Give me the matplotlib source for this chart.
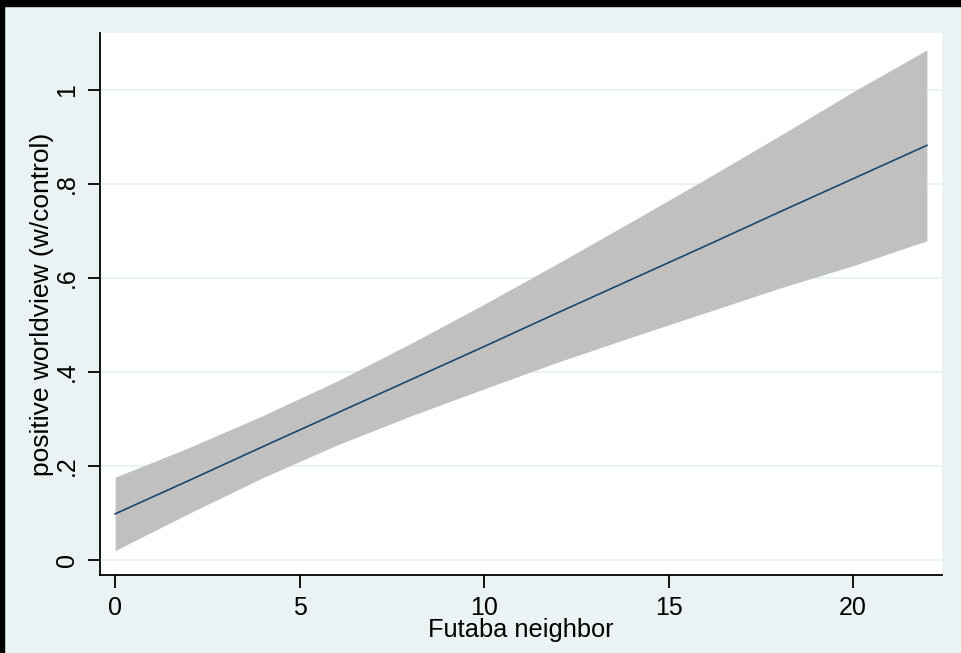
import matplotlib.pyplot as plt
from matplotlib.patches import Rectangle
import numpy as np

# values (linear fit with 95% CI)
x_vals = [0, 2, 4, 6, 8, 10, 12, 14, 16, 18, 20, 22]
fit = [0.098, 0.169, 0.241, 0.312, 0.383, 0.454, 0.526, 0.597, 0.668, 0.740, 0.811, 0.882]
ci_upper = [0.176, 0.239, 0.307, 0.380, 0.460, 0.544, 0.631, 0.720, 0.810, 0.902, 0.996, 1.085]
ci_lower = [0.020, 0.099, 0.175, 0.244, 0.306, 0.364, 0.421, 0.474, 0.526, 0.578, 0.626, 0.679]

x_ticks = [0, 5, 10, 15, 20]
y_ticks = [0, 0.2, 0.4, 0.6, 0.8, 1.0]
y_labels = ["0", ".2", ".4", ".6", ".8", "1"]

plt.rcParams['font.family'] = ['Liberation Sans', 'DejaVu Sans']

bg = "#eaf2f3"
fig = plt.figure(figsize=(9.61, 6.53), dpi=100, facecolor=bg)
ax = fig.add_axes([100 / 961, 1 - 575 / 653, 842 / 961, 542 / 653])
ax.set_facecolor("white")

ax.fill_between(x_vals, ci_lower, ci_upper, color="#c0c0c0", linewidth=0, zorder=2)
ax.plot(x_vals, fit, color="#1a476f", linewidth=1.2, zorder=3)

ax.set_xlim(-0.41, 22.41)
ax.set_ylim(-0.032, 1.121)
ax.set_xticks(x_ticks)
ax.set_yticks(y_ticks)
ax.set_yticklabels(y_labels, rotation=90, va="center")
ax.yaxis.grid(True, color=bg, linewidth=1.5)
ax.set_axisbelow(True)

for s in ["top", "right"]:
    ax.spines[s].set_visible(False)
for s in ["left", "bottom"]:
    ax.spines[s].set_linewidth(1.3)
    ax.spines[s].set_color("black")
ax.tick_params(axis="both", length=9, width=1.3, labelsize=18, pad=6)

ax.set_xlabel("Futaba neighbor", fontsize=18.3, labelpad=-1)
ax.set_ylabel("positive worldview (w/control)", fontsize=19, labelpad=1)

# black strips along the top and left edges of the screenshot
fig.patches.append(Rectangle((0, 1 - 6 / 653), 1, 6 / 653, transform=fig.transFigure, color="black"))
fig.patches.append(Rectangle((0, 0), 4 / 961, 1, transform=fig.transFigure, color="black"))

fig.savefig("out.png", dpi=100, facecolor=bg)
